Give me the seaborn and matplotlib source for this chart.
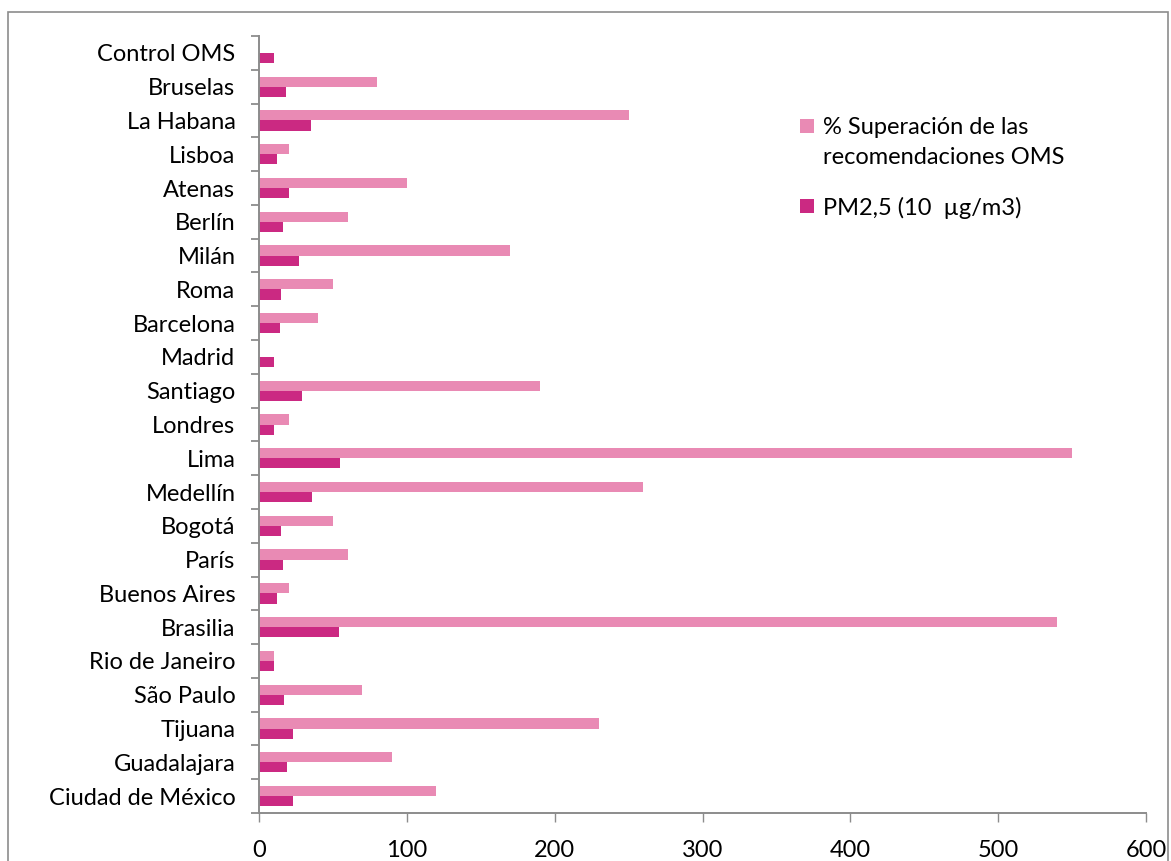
import numpy as np
import pandas as pd
import matplotlib
matplotlib.use("Agg")
import matplotlib.pyplot as plt
from matplotlib.patches import Rectangle
from matplotlib.ticker import FixedLocator
import seaborn as sns

# City concentrations of fine particulate matter and how far they exceed the WHO guideline
cities = ["Control OMS", "Bruselas", "La Habana", "Lisboa", "Atenas", "Berlín",
          "Milán", "Roma", "Barcelona", "Madrid", "Santiago", "Londres", "Lima",
          "Medellín", "Bogotá", "París", "Buenos Aires", "Brasilia",
          "Rio de Janeiro", "São Paulo", "Tijuana", "Guadalajara",
          "Ciudad de México"]
superacion = [0, 80, 250, 20, 100, 60, 170, 50, 40, 0, 190, 20, 550, 260,
              50, 60, 20, 540, 10, 70, 230, 90, 120]
pm25 = [10, 18, 35, 12, 20, 16, 27, 15, 14, 10, 29, 10, 55, 36, 15, 16, 12,
        54, 10, 17, 23, 19, 23]
series_names = ["% Superación de las\nrecomendaciones OMS", "PM2,5 (10  µg/m3)"]
x_ticks = [0, 100, 200, 300, 400, 500, 600]

PINK = "#E98AB4"
MAGENTA = "#CB2982"
AXIS_GRAY = "#8C8C8C"
FS = 17

sns.set_style("white")
plt.rcParams["font.family"] = ["Lato", "DejaVu Sans"]

df = pd.DataFrame({
    "ciudad": cities * 2,
    "valor": superacion + pm25,
    "serie": [series_names[0]] * len(cities) + [series_names[1]] * len(cities),
})

fig = plt.figure(figsize=(11.71, 8.61), dpi=100)
ax = fig.add_axes([259 / 1171, 1 - 813 / 861, (1146 - 259) / 1171, (813 - 36) / 861])

sns.barplot(data=df, y="ciudad", x="valor", hue="serie", orient="h",
            order=cities, hue_order=series_names, palette=[PINK, MAGENTA],
            width=0.6, saturation=1, linewidth=0, legend=False, ax=ax)

ax.set_xlim(0, 600)
ax.set_ylim(len(cities) - 0.5, -0.5)
ax.set_xlabel("")
ax.set_ylabel("")
ax.set_xticks(x_ticks)
ax.set_xticklabels([str(t) for t in x_ticks])

# category separators as outward tick marks on the value axis
ax.yaxis.set_minor_locator(FixedLocator(np.arange(-0.5, len(cities), 1.0)))
ax.tick_params(axis="y", which="major", length=0, pad=17, labelsize=FS,
               labelcolor="#000000")
ax.tick_params(axis="y", which="minor", length=6, width=1.3, color=AXIS_GRAY,
               left=True, direction="out")
ax.tick_params(axis="x", which="major", length=6.5, width=1.0, color=AXIS_GRAY,
               pad=13, labelsize=FS, labelcolor="#000000", bottom=True,
               direction="out")

for side in ("top", "right"):
    ax.spines[side].set_visible(False)
for side in ("left", "bottom"):
    ax.spines[side].set_color(AXIS_GRAY)
    ax.spines[side].set_linewidth(1.4)

# legend drawn as swatches with wrapped labels, swatch aligned to the first line
legend_items = [(PINK, series_names[0], 126), (MAGENTA, series_names[1], 206)]
for color, label, yc in legend_items:
    fig.patches.append(Rectangle((800 / 1171, 1 - (yc + 7) / 861), 14 / 1171, 14 / 861,
                                 transform=fig.transFigure, facecolor=color,
                                 edgecolor="none"))
    fig.text(823 / 1171, 1 - (yc - 9) / 861, label, ha="left", va="top",
             fontsize=FS, linespacing=1.55, color="#000000")

# outer chart frame
fig.patches.append(Rectangle((8 / 1171, -0.05), (1168 - 8) / 1171, 1.05 - 12 / 861,
                             transform=fig.transFigure, facecolor="none",
                             edgecolor=AXIS_GRAY, linewidth=1.2))

fig.savefig("out.png", dpi=100)
